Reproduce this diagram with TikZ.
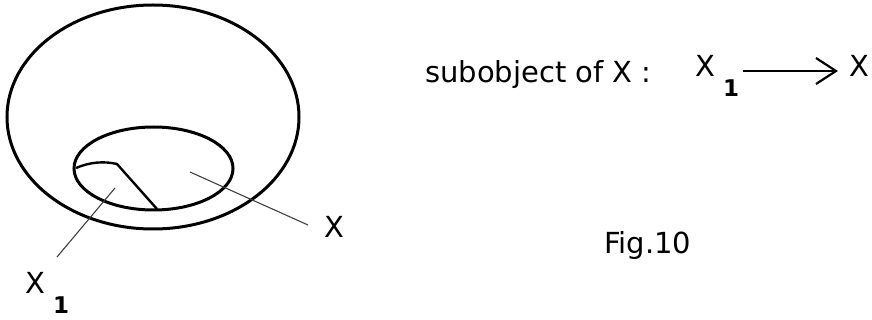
\documentclass[tikz,border=0pt]{standalone}
\usepackage{fontspec}
\setmainfont{DejaVu Sans}
\usetikzlibrary{arrows.meta}
\tikzset{
  outline/.style={line width=3pt, black},
  leader/.style={line width=1.1pt, black!75},
  lbl/.style={inner sep=0pt, anchor=base west, font=\fontsize{29}{34}\selectfont},
  sub/.style={inner sep=0pt, anchor=base west, font=\fontsize{23}{27}\selectfont\bfseries},
}
\begin{document}
\begin{tikzpicture}[x=1pt,y=-1pt]
\useasboundingbox (0,0) rectangle (872,320);
% ellipses
\draw[outline] (153,117) ellipse [x radius=146pt, y radius=112pt];
\draw[outline] (153.5,168.5) ellipse [x radius=79.5pt, y radius=41.5pt];
% subobject boundary
\coordinate (c1) at (76,168);
\coordinate (c2) at (117,164);
\coordinate (c3) at (157,209);
\draw[line width=2.4pt, line join=round] (c1) .. controls (90,162) and (104,161) .. (c2) -- (c3);
% labels
\node[lbl] (x1x) at (25,293) {X};
\node[sub] (x1s) at (53,313) {1};
\node[lbl] (xl) at (324,238) {X};
\coordinate (p1) at (115,188);
\coordinate (q1) at (57,257);
\coordinate (p2) at (190,172);
\coordinate (q2) at (308,225);
\draw[leader] (p1) -- (q1);
\draw[leader] (p2) -- (q2);
% right side
\node[lbl] (title) at (425,83) {subobject of X :};
\node[lbl] (ax) at (695,77) {X};
\node[sub] (as) at (723,97) {1};
\node[lbl] (bx) at (849,77) {X};
\draw[line width=2.6pt, -{Straight Barb[length=20pt,width=26pt,line width=2.2pt]}] (743,71) -- (838,71);
\node[lbl] (fig) at (604,254) {Fig.10};
\end{tikzpicture}
\end{document}
